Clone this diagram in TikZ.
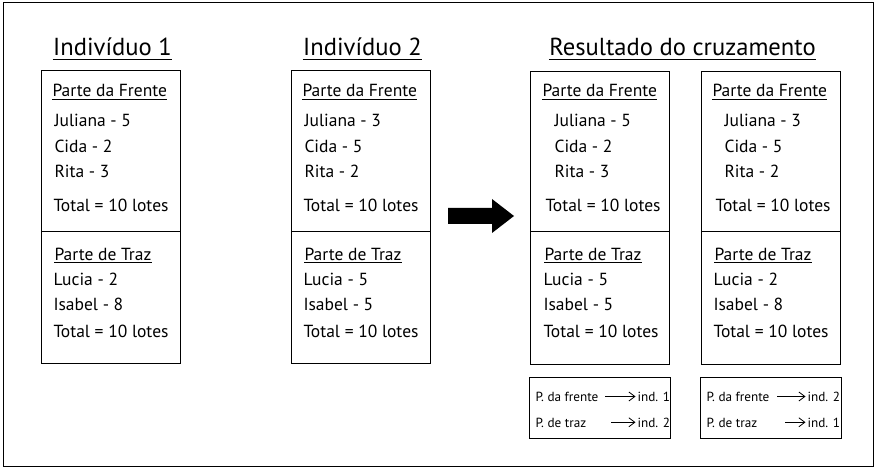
\documentclass[tikz,border=0pt]{standalone}
\usepackage{fontspec}
\setmainfont{PT Sans}
\usetikzlibrary{arrows.meta}
\begin{document}
\begin{tikzpicture}[x=1pt,y=-1pt,line width=1pt,
  txt/.style={anchor=base west,inner sep=0pt,font=\fontsize{17.5}{20}\selectfont},
  ttl/.style={anchor=base,inner sep=0pt,font=\fontsize{24.6}{28}\selectfont},
  sm/.style={anchor=base west,inner sep=0pt,font=\fontsize{13.2}{16}\selectfont},
  panel/.style={draw,line width=1pt,anchor=north west,minimum width=139pt,minimum height=293pt,inner sep=0pt},
  note/.style={draw,line width=1pt,anchor=north west,minimum width=141pt,minimum height=61pt,inner sep=0pt},
  smarrow/.style={-{Straight Barb[length=6pt,width=9pt]},line width=0.8pt}]
\useasboundingbox (0,0) rectangle (880,470);
\draw (3,3) rectangle (873,466);

% titles
\node[ttl] (t1) at (112.5,56) {Indivíduo 1};
\node[ttl] (t2) at (362.5,56) {Indivíduo 2};
\node[ttl] (t3) at (682.5,56) {Resultado do cruzamento};
\foreach \t in {t1,t2,t3}{\draw ([yshift=-3.5pt]\t.base west) -- ([yshift=-3.5pt]\t.base east);}

% panels
\node[panel] (b1) at (41,70) {};
\node[panel] (b2) at (291,70) {};
\node[panel] (b3) at (530,71) {};
\node[panel] (b4) at (701,71) {};
\draw (41,232) -- (180,232);
\draw (291,232) -- (430,232);
\draw (530,232) -- (669,232);
\draw (701,232) -- (840,232);

% box 1
\node[txt] (f1) at (52,96.7) {Parte da Frente};
\node[txt] (j1) at (54,127) {Juliana - 5};
\node[txt] (c1) at (54,152.7) {Cida - 2};
\node[txt] (r1) at (54,177.7) {Rita - 3};
\node[txt] (s1) at (53,211.7) {Total = 10 lotes};
\node[txt] (p1) at (54,260) {Parte de Traz};
\node[txt] (l1) at (53,285) {Lucia - 2};
\node[txt] (i1) at (53,310.7) {Isabel - 8};
\node[txt] (u1) at (53,337) {Total = 10 lotes};

% box 2
\node[txt] (f2) at (302,96.7) {Parte da Frente};
\node[txt] (j2) at (304,127) {Juliana - 3};
\node[txt] (c2) at (304,152.7) {Cida - 5};
\node[txt] (r2) at (304,177.7) {Rita - 2};
\node[txt] (s2) at (303,211.7) {Total = 10 lotes};
\node[txt] (p2) at (304,260) {Parte de Traz};
\node[txt] (l2) at (303,285) {Lucia - 5};
\node[txt] (i2) at (303,310.7) {Isabel - 5};
\node[txt] (u2) at (303,337) {Total = 10 lotes};

% box 3
\node[txt] (f3) at (542,96.7) {Parte da Frente};
\node[txt] (j3) at (554,127) {Juliana - 5};
\node[txt] (c3) at (554,152.7) {Cida - 2};
\node[txt] (r3) at (554,177.7) {Rita - 3};
\node[txt] (s3) at (545,211.7) {Total = 10 lotes};
\node[txt] (p3) at (544,260) {Parte de Traz};
\node[txt] (l3) at (543,285) {Lucia - 5};
\node[txt] (i3) at (543,310.7) {Isabel - 5};
\node[txt] (u3) at (543,337) {Total = 10 lotes};

% box 4
\node[txt] (f4) at (712,96.7) {Parte da Frente};
\node[txt] (j4) at (724,127) {Juliana - 3};
\node[txt] (c4) at (724,152.7) {Cida - 5};
\node[txt] (r4) at (724,177.7) {Rita - 2};
\node[txt] (s4) at (715,211.7) {Total = 10 lotes};
\node[txt] (p4) at (714,260) {Parte de Traz};
\node[txt] (l4) at (713,285) {Lucia - 2};
\node[txt] (i4) at (713,310.7) {Isabel - 8};
\node[txt] (u4) at (713,337) {Total = 10 lotes};

\foreach \h in {f1,p1,f2,p2,f3,p3,f4,p4}{\draw ([yshift=-2.5pt]\h.base west) -- ([yshift=-2.5pt]\h.base east);}

% big arrow
\fill (448,208) -- (492,208) -- (492,199) -- (514,216) -- (492,233) -- (492,224) -- (448,224) -- cycle;

% note boxes
\node[note] (n1) at (529,377) {};
\node[note] (n2) at (700,377) {};
\node[sm] (na) at (535,401.5) {P. da frente};
\node[sm] (nb) at (637,401.5) {ind. 1};
\node[sm] (nc) at (535,427.3) {P. de traz};
\node[sm] (nd) at (637,427.3) {ind. 2};
\node[sm] (ne) at (706,401.5) {P. da frente};
\node[sm] (nf) at (807,401.5) {ind. 2};
\node[sm] (ng) at (706,427.3) {P. de traz};
\node[sm] (nh) at (807,427.3) {ind. 1};
\coordinate (ca) at (605,396.5);
\coordinate (cc) at (611,422.3);
\coordinate (ce) at (777,396.5);
\coordinate (cg) at (785,422.3);
\draw[smarrow] (ca) -- ([xshift=-1.5pt]nb.west |- ca);
\draw[smarrow] (cc) -- ([xshift=-1.5pt]nd.west |- cc);
\draw[smarrow] (ce) -- ([xshift=-1.5pt]nf.west |- ce);
\draw[smarrow] (cg) -- ([xshift=-1.5pt]nh.west |- cg);
\end{tikzpicture}
\end{document}
